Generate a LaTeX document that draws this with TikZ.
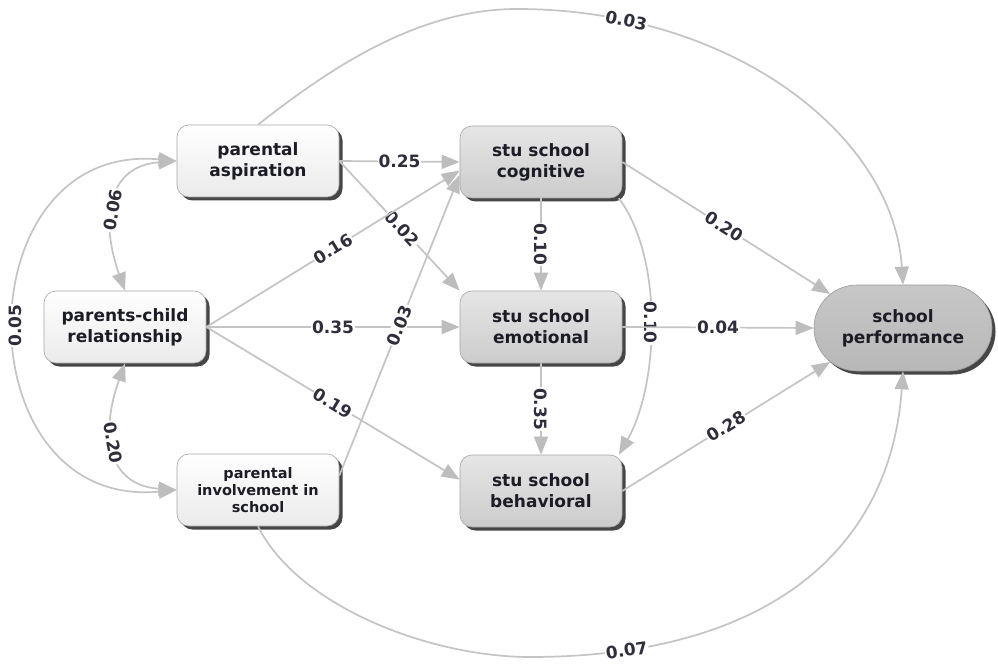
\documentclass[tikz,border=0pt]{standalone}
\usepackage{fontspec}
\setmainfont{DejaVu Sans}
\usetikzlibrary{arrows.meta,shadows,shapes.misc}
\definecolor{edgegray}{HTML}{C4C4C4}
\definecolor{tipgray}{HTML}{BDBDBD}
\definecolor{labcol}{HTML}{2E2E3C}
\definecolor{txtcol}{HTML}{1C1C26}
\tikzset{
  boxbase/.style={rounded corners=12pt, draw=black!35, line width=0.6pt,
    minimum width=162pt, minimum height=72pt, inner sep=0pt, align=center,
    text=txtcol, font=\fontsize{17}{21}\selectfont\bfseries,
    drop shadow={shadow xshift=3.5pt, shadow yshift=-3.5pt, fill=black!85, opacity=0.85}},
  lightbox/.style={boxbase, top color=white, bottom color=black!8},
  midbox/.style={boxbase, top color=black!10, bottom color=black!20},
  perfbox/.style={rounded rectangle, draw=black!40, line width=0.6pt,
    minimum width=178pt, minimum height=86pt, inner sep=0pt, align=center,
    text=txtcol, font=\fontsize{17}{21}\selectfont\bfseries,
    top color=black!22, bottom color=black!28,
    drop shadow={shadow xshift=3.5pt, shadow yshift=-3.5pt, fill=black!85, opacity=0.85}},
  conn/.style={draw=edgegray, line width=1.7pt,
    -{Triangle[length=18pt,width=14pt,fill=tipgray,color=tipgray]}},
  cov/.style={draw=edgegray, line width=1.7pt,
    {Triangle[length=18pt,width=14pt,fill=tipgray,color=tipgray]}-{Triangle[length=18pt,width=14pt,fill=tipgray,color=tipgray]}},
  lab/.style={fill=white, inner sep=1pt, text=labcol,
    font=\fontsize{17}{17}\selectfont\bfseries}
}
\begin{document}
\begin{tikzpicture}[x=1pt,y=-1pt]
\useasboundingbox[fill=white] (0,0) rectangle (998,668);

\node[lightbox] (asp) at (258,161) {parental\\aspiration};
\node[lightbox] (rel) at (125,327) {parents-child\\relationship};
\node[lightbox, font=\fontsize{14.5}{17}\selectfont\bfseries] (inv) at (258,490) {parental\\involvement in\\school};
\node[midbox] (cog) at (541,162) {stu school\\cognitive};
\node[midbox] (emo) at (541,327) {stu school\\emotional};
\node[midbox] (beh) at (541,491) {stu school\\behavioral};
\node[perfbox] (perf) at (903,328) {school\\performance};

\coordinate (topmid) at (517,9);
\coordinate (botmid) at (530,657);

% long curves
\draw[conn] (asp.north) .. controls +(70,-55) and +(-100,0) .. (topmid)
  .. controls +(212,0) and +(-10,-152) .. (perf.north)
  node[lab, pos=0.18, sloped] {0.03};
\draw[conn] (inv.south) .. controls +(40,80) and +(-100,0) .. (botmid)
  .. controls +(230,0) and +(-13,185) .. (perf.south)
  node[lab, pos=0.15, sloped] {0.07};

% covariances
\draw[cov] (asp.west) .. controls +(-215,-20) and +(-215,20) .. (inv.west)
  node[lab, pos=0.5, rotate=90] {0.05};
\draw[cov] (asp.west) .. controls +(-70,5) and +(-25,-70) .. (rel.north)
  node[lab, pos=0.56, sloped] {0.06};
\draw[cov] (rel.south) .. controls +(-25,70) and +(-70,-5) .. (inv.west)
  node[lab, pos=0.44, sloped] {0.20};

% straight paths
\draw[conn] (asp.east) -- (cog.west) node[lab, pos=0.5] {0.25};
\draw[conn] (asp.east) -- (emo.north west) node[lab, pos=0.52, sloped] {0.02};
\draw[conn] (rel.east) -- (cog.186) node[lab, pos=0.5, sloped] {0.16};
\draw[conn] (rel.east) -- (emo.west) node[lab, pos=0.5] {0.35};
\draw[conn] (rel.east) -- (beh.172) node[lab, pos=0.5, sloped] {0.19};
\draw[conn] (inv.10) -- (cog.189) node[lab, pos=0.5, sloped] {0.03};

\draw[conn] (cog.south) -- (emo.north) node[lab, pos=0.5, rotate=-90] {0.10};
\draw[conn] (emo.south) -- (beh.north) node[lab, pos=0.5, rotate=-90] {0.35};
\draw[conn] (cog.-25) .. controls +(45,60) and +(40,-70) .. (beh.25)
  node[lab, pos=0.5, rotate=-90] {0.10};

\draw[conn] (cog.east) -- (perf.155) node[lab, pos=0.49, sloped] {0.20};
\draw[conn] (emo.east) -- (perf.west) node[lab, pos=0.5] {0.04};
\draw[conn] (beh.east) -- (perf.205) node[lab, pos=0.5, sloped] {0.28};
\end{tikzpicture}
\end{document}
